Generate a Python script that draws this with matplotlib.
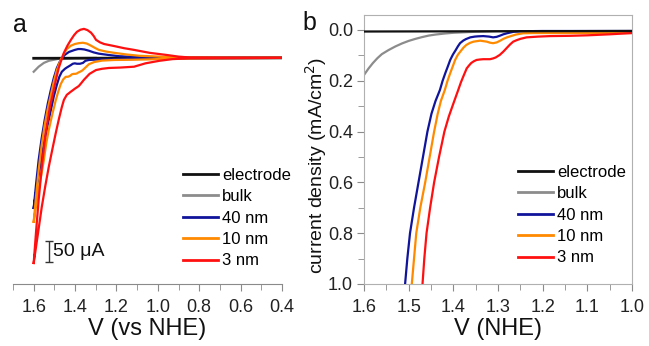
import matplotlib
matplotlib.use("Agg")
import matplotlib.pyplot as plt
from matplotlib.ticker import MultipleLocator

plt.rcParams['font.family'] = ['Liberation Sans', 'DejaVu Sans']

labels = ["electrode", "bulk", "40 nm", "10 nm", "3 nm"]
colors = ["#111111", "#8c8c8c", "#10149a", "#ff8a00", "#ff1010"]

# ---------- panel a: cyclic voltammograms (current in uA, anodic plotted down)
a_black_V = [1.60, 0.40]
a_black_I = [1.0, 0.0]
a_bulk_V = [1.600, 1.576, 1.551, 1.527, 1.478, 1.40, 1.30]
a_bulk_I = [33, 21, 12, 7, 2, 0.5, 0]

# reverse scan (upper branch) 1.6 -> 0.4, then forward scan (lower branch) 0.4 -> 1.6
a_40_V = [1.600, 1.588, 1.576, 1.562, 1.547, 1.532, 1.517, 1.503, 1.488, 1.469, 1.450,
          1.430, 1.401, 1.385, 1.372, 1.355, 1.333, 1.310, 1.285,
          1.240, 1.188, 1.100, 0.993, 0.40,
          0.40, 0.848, 1.000, 1.090, 1.180, 1.236, 1.300, 1.333, 1.350, 1.362, 1.376,
          1.391, 1.401, 1.411, 1.420, 1.430, 1.440, 1.449, 1.464,
          1.476, 1.488, 1.503, 1.517, 1.532, 1.547, 1.562, 1.576, 1.588, 1.600]
a_40_I = [357, 298, 243, 193, 148, 109, 76, 48, 24, 4, -7,
          -14, -19, -21, -21, -20, -17, -13, -10,
          -7, -4, -2, -1, 0,
          0, 0.7, 1.5, 2.4, 3.2, 3.6, 4.2, 5, 7, 12, 14,
          14, 13, 14, 17, 20, 23, 26, 33,
          45, 64, 92, 124, 158, 195, 236, 279, 318, 357]

a_10_V = [1.600, 1.588, 1.576, 1.562, 1.547, 1.532, 1.517, 1.503, 1.488, 1.469, 1.454,
          1.440, 1.420, 1.401, 1.382, 1.362, 1.343, 1.323, 1.305, 1.285,
          1.250, 1.211, 1.150, 1.090, 0.993, 0.896, 0.40,
          0.40, 0.799, 0.950, 1.041, 1.130, 1.211, 1.270, 1.308, 1.333, 1.352, 1.365,
          1.376, 1.385, 1.391, 1.398, 1.406, 1.415, 1.425, 1.435, 1.445, 1.457,
          1.469, 1.480, 1.493, 1.510, 1.527, 1.540, 1.551, 1.563, 1.576, 1.588, 1.600]
a_10_I = [390, 326, 267, 210, 160, 121, 88, 57, 29, 4, -10,
          -21, -29, -33, -35, -36, -34, -29, -24, -19,
          -15, -12, -8, -5, -3, -1, 0,
          0, 1, 2, 3.6, 4.5, 5, 6.5, 10, 15, 24, 30,
          33, 35, 37, 38, 38, 39, 43, 45, 45, 51,
          62, 78, 100, 134, 171, 205, 243, 278, 314, 350, 390]

a_3_V = [1.600, 1.588, 1.576, 1.560, 1.542, 1.522, 1.503, 1.491, 1.479, 1.466, 1.454,
         1.437, 1.420, 1.405, 1.391, 1.374, 1.357, 1.340, 1.323, 1.310, 1.299,
         1.280, 1.260, 1.210, 1.163, 1.115, 1.040, 0.959, 0.900, 0.848, 0.40,
         0.40, 0.848, 0.930, 0.993, 1.060, 1.115, 1.180, 1.236, 1.270, 1.299, 1.330,
         1.357, 1.370, 1.382, 1.400, 1.422, 1.440, 1.454, 1.464,
         1.478, 1.493, 1.510, 1.527, 1.544, 1.561, 1.580, 1.600]
a_3_I = [488, 410, 338, 255, 178, 117, 76, 49, 24, 5, -12,
         -29, -43, -54, -62, -67, -69, -66, -60, -52, -43,
         -37, -33, -28, -23, -19, -12, -7, -3, -1, 0,
         0, 1, 3, 7, 13, 21, 23, 24, 26, 29, 38,
         52, 60, 67, 73, 81, 88, 100, 117,
         145, 178, 218, 259, 305, 355, 420, 488]

# ---------- panel b: linear sweeps (mA/cm2)
b_black_V = [1.60, 1.00]
b_black_j = [0.006, 0.004]
b_bulk_V = [1.60, 1.59, 1.58, 1.57, 1.56, 1.545, 1.53, 1.515, 1.50, 1.485, 1.47, 1.455,
            1.44, 1.42, 1.40, 1.375, 1.35, 1.30, 1.00]
b_bulk_j = [0.177, 0.152, 0.13, 0.111, 0.095, 0.079, 0.065, 0.053, 0.043, 0.035, 0.028,
            0.022, 0.018, 0.014, 0.011, 0.009, 0.007, 0.005, 0.004]
b_40_V = [1.508, 1.503, 1.497, 1.488, 1.478, 1.468, 1.458, 1.449, 1.440, 1.430, 1.424,
          1.418, 1.412, 1.407, 1.401, 1.395, 1.390, 1.385, 1.378, 1.372,
          1.362, 1.352, 1.345, 1.333, 1.320, 1.311, 1.303, 1.295, 1.288, 1.280, 1.265,
          1.250, 1.200, 1.000]
b_40_j = [1.0, 0.9, 0.8, 0.7, 0.6, 0.5, 0.4, 0.33, 0.28, 0.236, 0.2,
          0.17, 0.142, 0.118, 0.097, 0.08, 0.065, 0.052, 0.042, 0.036,
          0.029, 0.026, 0.025, 0.024, 0.026, 0.029, 0.027, 0.022, 0.017, 0.013, 0.007,
          0.005, 0.004, 0.004]
b_10_V = [1.493, 1.488, 1.483, 1.474, 1.463, 1.453, 1.443, 1.435, 1.428, 1.419, 1.413,
          1.407, 1.401, 1.396, 1.390, 1.383, 1.377, 1.371, 1.363, 1.355,
          1.340, 1.325, 1.318, 1.311, 1.303, 1.295, 1.288, 1.280, 1.260, 1.244,
          1.220, 1.200, 1.000]
b_10_j = [1.0, 0.9, 0.8, 0.7, 0.6, 0.5, 0.4, 0.33, 0.28, 0.236, 0.2,
          0.17, 0.142, 0.118, 0.098, 0.082, 0.069, 0.059, 0.051, 0.046,
          0.042, 0.046, 0.05, 0.052, 0.049, 0.042, 0.035, 0.029, 0.018, 0.013,
          0.012, 0.012, 0.012]
b_3_V = [1.469, 1.465, 1.460, 1.452, 1.443, 1.432, 1.420, 1.410, 1.400, 1.389, 1.383,
         1.377, 1.370, 1.365, 1.360, 1.354, 1.348, 1.340, 1.333, 1.325,
         1.318, 1.311, 1.305, 1.296, 1.288, 1.280, 1.273, 1.266, 1.258, 1.250, 1.236,
         1.210, 1.183, 1.140, 1.100, 1.050, 1.000]
b_3_j = [1.0, 0.9, 0.8, 0.7, 0.6, 0.5, 0.4, 0.34, 0.29, 0.236, 0.206,
         0.18, 0.151, 0.14, 0.13, 0.123, 0.118, 0.116, 0.115, 0.115,
         0.115, 0.112, 0.108, 0.098, 0.085, 0.07, 0.057, 0.046, 0.04, 0.035, 0.029,
         0.026, 0.024, 0.023, 0.021, 0.017, 0.012]

scale_bar_uA = 50

fig = plt.figure(figsize=(6.49, 3.46), dpi=100)
axa = fig.add_axes([13/649, 62/346, 269/649, 269/346])
axb = fig.add_axes([364/649, 62/346, 268/649, 269/346])

lw = 1.6
a_series = [(a_black_V, a_black_I), (a_bulk_V, a_bulk_I), (a_40_V, a_40_I),
            (a_10_V, a_10_I), (a_3_V, a_3_I)]
b_series = [(b_black_V, b_black_j), (b_bulk_V, b_bulk_j), (b_40_V, b_40_j),
            (b_10_V, b_10_j), (b_3_V, b_3_j)]
zorders = [3, 2, 4, 5, 6]
for (V, I), c, lab, z in zip(a_series, colors, labels, zorders):
    axa.plot(V, I, color=c, lw=lw if lab != "electrode" else 2.0, label=lab, zorder=z,
             solid_joinstyle='round')
for (V, j), c, lab, z in zip(b_series, colors, labels, [6, 2, 3, 4, 5]):
    axb.plot(V, j, color=c, lw=lw, label=lab, zorder=z, solid_joinstyle='round')

spine_c = "#8a8a8a"
# panel a axes styling
axa.set_xlim(1.7, 0.4)
axa.set_ylim(538, -102)
for s in ["left", "right", "top"]:
    axa.spines[s].set_visible(False)
axa.spines["bottom"].set_color(spine_c)
axa.set_yticks([])
axa.xaxis.set_minor_locator(MultipleLocator(0.1))
axa.set_xticks([1.6, 1.4, 1.2, 1.0, 0.8, 0.6, 0.4])
axa.set_xticklabels(["1.6", "1.4", "1.2", "1.0", "0.8", "0.6", "0.4"])
axa.tick_params(axis='x', which='both', direction='out', color=spine_c, labelsize=13,
                labelcolor="#222222", pad=6)
axa.tick_params(axis='x', which='major', length=5)
axa.tick_params(axis='x', which='minor', length=4)
axa.set_xlabel("V (vs NHE)", fontsize=17, color="#111111", labelpad=1)
axa.patch.set_alpha(0)

# scale bar
bar_x = 1.527
bar_mid = 460
axa.errorbar([bar_x], [bar_mid], yerr=[scale_bar_uA / 2], color="#333333",
             lw=1.0, capsize=3, capthick=1.0, zorder=1)
axa.text(1.507, bar_mid, "50 \u03bcA", fontsize=14, va='center', ha='left',
         color="#111111")

leg_a = axa.legend(loc='upper left', bbox_to_anchor=(183/649, 1 - 168/346),
                   bbox_transform=fig.transFigure, frameon=False, fontsize=12,
                   handlelength=2.1, handletextpad=0.25, labelspacing=0.38,
                   borderpad=0, borderaxespad=0)
for l in leg_a.get_lines():
    l.set_linewidth(2.0)

# panel b axes styling
axb.set_xlim(1.6, 1.0)
axb.set_ylim(1.0, -0.059)
for s in axb.spines.values():
    s.set_color("#b0b0b0")
axb.xaxis.set_minor_locator(MultipleLocator(0.05))
axb.yaxis.set_minor_locator(MultipleLocator(0.1))
axb.set_xticks([1.6, 1.5, 1.4, 1.3, 1.2, 1.1, 1.0])
axb.set_xticklabels(["1.6", "1.5", "1.4", "1.3", "1.2", "1.1", "1.0"])
axb.set_yticks([0.0, 0.2, 0.4, 0.6, 0.8, 1.0])
axb.set_yticklabels(["0.0", "0.2", "0.4", "0.6", "0.8", "1.0"])
axb.tick_params(which='both', direction='out', color=spine_c, labelsize=13,
                labelcolor="#222222")
axb.tick_params(axis='x', which='both', pad=6)
axb.tick_params(axis='y', which='both', pad=3)
axb.tick_params(which='major', length=5)
axb.tick_params(which='minor', length=4)
axb.set_xlabel("V (NHE)", fontsize=17, color="#111111", labelpad=1)
axb.set_ylabel("current density (mA/cm$^2$)", fontsize=14, color="#111111")
axb.yaxis.set_label_coords(-0.13, 0.44)

leg_b = axb.legend(loc='upper left', bbox_to_anchor=(518/649, 1 - 165/346),
                   bbox_transform=fig.transFigure, frameon=False, fontsize=12,
                   handlelength=2.1, handletextpad=0.25, labelspacing=0.38,
                   borderpad=0, borderaxespad=0)
for l in leg_b.get_lines():
    l.set_linewidth(2.0)

fig.text(20/649, 1 - 25/346, "a", fontsize=18, ha='center', va='center', color="#111111")
fig.text(309/649, 1 - 23/346, "b", fontsize=18, ha='center', va='center', color="#111111")

fig.savefig("out.png", dpi=100)
